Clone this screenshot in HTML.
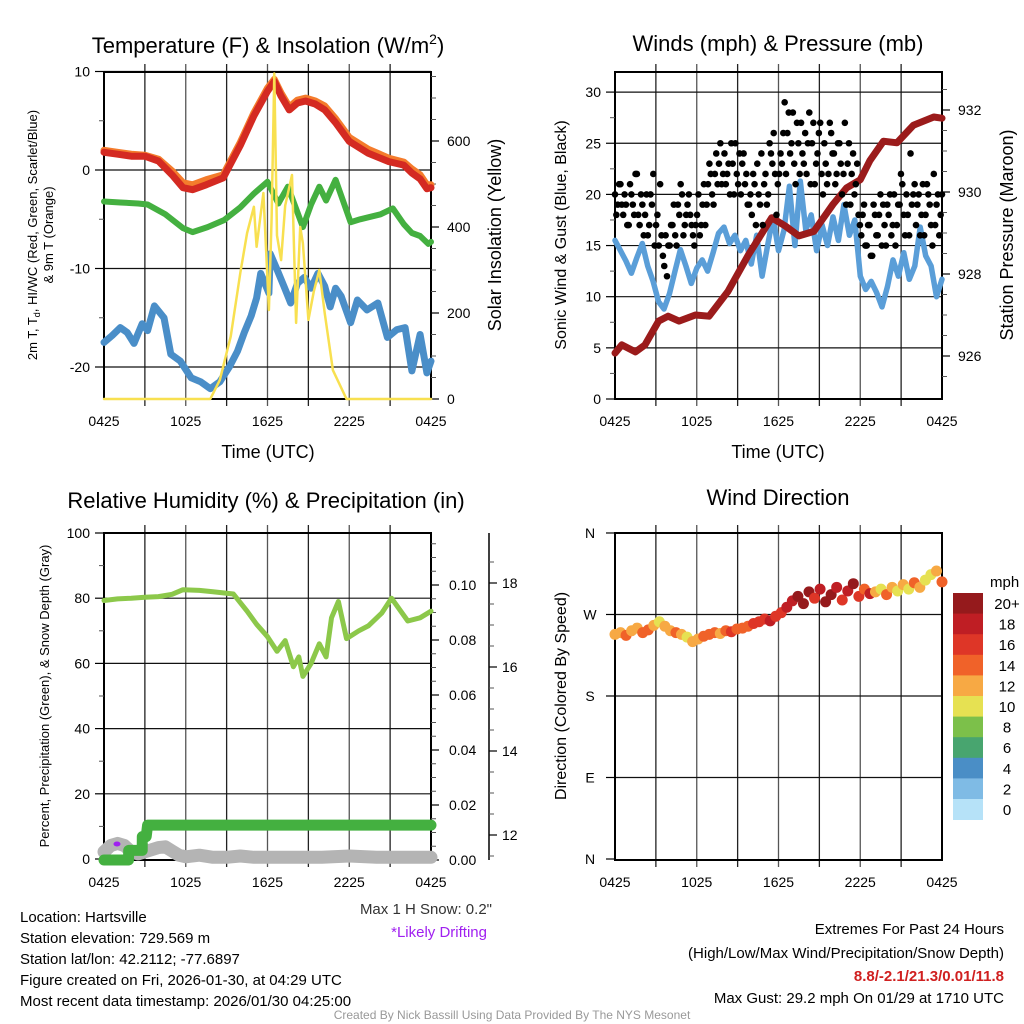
<!DOCTYPE html>
<html><head><meta charset="utf-8"><style>
html,body{margin:0;padding:0;background:#fff;}
svg{display:block;font-family:"Liberation Sans",Arial,sans-serif;}
</style></head><body>
<svg id="fig" width="1024" height="1024" viewBox="0 0 1024 1024" xmlns="http://www.w3.org/2000/svg">
<rect width="1024" height="1024" fill="#fff"/>
<g font-size="22" text-anchor="middle" fill="#000">
<text x="268" y="53">Temperature (F) &amp; Insolation (W/m<tspan font-size="14" dy="-9">2</tspan><tspan dy="9">)</tspan></text>
<text x="778" y="51">Winds (mph) &amp; Pressure (mb)</text>
<text x="266" y="508">Relative Humidity (%) &amp; Precipitation (in)</text>
<text x="778" y="505">Wind Direction</text>
</g>
<g font-size="18" text-anchor="middle">
<text x="268" y="458">Time (UTC)</text>
<text x="778" y="458">Time (UTC)</text>
<text transform="translate(501,235) rotate(-90)">Solar Insolation (Yellow)</text>
<text transform="translate(1013,235) rotate(-90)">Station Pressure (Maroon)</text>
</g>
<g font-size="16" text-anchor="middle">
<text transform="translate(566,235) rotate(-90)">Sonic Wind &amp; Gust (Blue, Black)</text>
<text transform="translate(566,696) rotate(-90)">Direction (Colored By Speed)</text>
</g>
<g font-size="13" text-anchor="middle">
<text transform="translate(37,235) rotate(-90)">2m T, T<tspan font-size="9" dy="3">d</tspan><tspan dy="-3">, HI/WC (Red, Green, Scarlet/Blue)</tspan></text>
<text transform="translate(53,235) rotate(-90)">&amp; 9m T (Orange)</text>
<text transform="translate(49,696) rotate(-90)">Percent, Precipitation (Green), &amp; Snow Depth (Gray)</text>
</g>
<g font-size="15">
<text x="20" y="922">Location: Hartsville</text>
<text x="20" y="943">Station elevation: 729.569 m</text>
<text x="20" y="964">Station lat/lon: 42.2112; -77.6897</text>
<text x="20" y="985">Figure created on Fri, 2026-01-30, at 04:29 UTC</text>
<text x="20" y="1006">Most recent data timestamp: 2026/01/30 04:25:00</text>
<text x="492" y="914" text-anchor="end" fill="#333">Max 1 H Snow: 0.2"</text>
<text x="487" y="937" text-anchor="end" fill="#a020f0">*Likely Drifting</text>
<text x="1004" y="934" text-anchor="end">Extremes For Past 24 Hours</text>
<text x="1004" y="958" text-anchor="end">(High/Low/Max Wind/Precipitation/Snow Depth)</text>
<text x="1004" y="981" text-anchor="end" fill="#d02020" font-weight="bold">8.8/-2.1/21.3/0.01/11.8</text>
<text x="1004" y="1003" text-anchor="end">Max Gust: 29.2 mph On 01/29 at 1710 UTC</text>
</g>
<text x="512" y="1019" font-size="12" fill="#999" text-anchor="middle">Created By Nick Bassill Using Data Provided By The NYS Mesonet</text>
<g id="layer"></g>
</svg>
<script>
// ---- Data arrays ----
const xTickLabels = ["0425","1025","1625","2225","0425"];
const tempHours = [0,1,2,3,4,5,5.8,6.5,7.5,8.75,10,11,12,12.5,13,13.6,14.2,14.8,15.5,16.2,17,18,19.4,20.9,22,22.6,23.2,23.7,24];
const temp2m = [1.8,1.6,1.4,1.4,0.9,-0.5,-1.8,-2.0,-1.5,-0.8,2.5,5.5,8.0,9.0,7.5,6.1,6.8,7.0,6.7,6.1,4.8,2.9,1.7,0.85,0.5,-0.3,-0.9,-1.9,-1.8];
const temp9m = [2.0,1.8,1.6,1.5,1.1,-0.1,-1.3,-1.5,-1.0,-0.5,2.8,5.8,8.3,9.2,7.8,6.4,7.1,7.3,7.0,6.5,5.2,3.3,2.1,1.2,0.8,0.1,-0.5,-1.5,-1.5];
const dewHours = [0,1.2,2.5,3.2,4.5,5.8,6.5,7.6,8.8,10,11,12,12.8,13.5,14.6,15.2,15.8,16.3,17,18.1,18.8,19.4,20.3,21.2,22,22.6,23.2,23.8,24];
const dewPoint = [-3.2,-3.3,-3.4,-3.5,-4.5,-5.9,-6.3,-5.8,-5.1,-3.8,-2.4,-1.2,-3.4,-1.7,-5.8,-3.5,-1.7,-3.1,-1.0,-5.3,-5.0,-4.8,-4.5,-3.9,-5.5,-6.4,-6.7,-7.5,-7.3];
const wcHours = [0,0.6,1.2,1.7,2.2,2.8,3.2,3.7,4.4,4.9,5.6,6.4,7.1,7.8,8.5,9.2,9.8,10.3,10.8,11.2,11.5,12.1,12.2,12.7,13.2,13.7,14.2,14.7,15.2,15.7,16.2,16.6,17.0,17.4,18.1,18.6,19.3,20.1,20.8,21.5,22.1,22.6,23.2,23.7,24];
const windChill = [-17.5,-16.8,-16.0,-16.5,-17.6,-15.6,-16.3,-13.8,-15.0,-18.7,-19.4,-21.1,-21.5,-22.2,-21.5,-20.0,-18.4,-16.5,-14.8,-13.0,-10.5,-12.5,-8.5,-10.1,-11.8,-13.5,-11.5,-10.9,-12.0,-10.5,-11.8,-13.9,-12.0,-12.8,-15.5,-13.2,-14.2,-13.5,-17.0,-16.2,-16.0,-20.4,-16.7,-20.6,-19.4];
const solarHours = [0,7.8,8.5,9.3,10,10.5,11,11.2,11.5,11.7,12.1,12.3,12.5,12.7,13,13.3,13.8,14.1,14.4,14.6,15,15.4,15.8,16.2,16.8,17.8,24];
const solarRad = [0,0,44,145,293,386,447,354,430,479,207,420,757,380,323,450,521,177,400,362,184,250,300,200,67,0,0];
const presHours = [0,0.5,1.5,2.2,3.2,3.9,4.7,5.9,6.9,8.3,9.8,11.5,12.5,13.5,14.6,16,17,18,18.7,19.7,20.7,21.9,23.4,24];
const pressure = [926.07,926.27,926.1,926.27,926.85,926.97,926.85,927.0,926.97,927.58,928.47,929.37,929.17,928.93,929.04,929.7,930.1,930.3,930.76,931.24,931.2,931.63,931.83,931.8];
const windSpeed = [15.5,14.5,13.5,12.3,13.8,15.2,13,11.5,9.5,8.8,10.3,12.5,14.6,13,11.3,12.8,13.6,12.5,14.3,16.2,16.8,15.2,16,14.5,15.5,13.2,16,12,15,17.8,14.5,16.5,20.8,15,21.3,16.5,18,14.5,17,15,17.8,15.5,19,16,17.5,12,10.7,11.5,10.4,9,11,13.6,12,14.3,11.7,13,16.8,14,13,10,11.7];
const gustValues = [20,19,21,18,19,17,20,18,22,17, 19,18,16,20,22,17,15,16,13,12, 15,17,16,19,21,16,18,20,17,15, 18,16,19,17,21,22,19,24,23,21, 24,22,20,23,25,21,20,24,22,19, 18,21,23,19,17,22,20,24,26,18, 22,23,29,26,24,28,21,25,27,23, 22,28,25,21,24,27,20,23,22,26, 24,22,25,20,27,23,19,24,21,18, 16,19,15,17,14,18,16,20,19,15, 18,16,20,17,19,21,16,18,24,20, 17,20,18,16,21,19,15,17,20,18];
const gustValues2 = [18,21,19,20,17,21,19,22,18,20, 16,20,17,19,15,18,21,14,16,15, 17,19,15,18,20,17,19,18,16,17, 20,17,21,19,23,20,22,21,25,22, 21,23,25,20,22,24,23,21,19,20, 22,17,20,24,21,19,25,23,22,21, 24,26,22,28,25,23,27,22,24,26, 25,21,27,23,26,22,25,21,27,24, 21,25,23,22,19,25,22,20,23,17, 18,15,17,14,19,16,18,15,17,19, 20,17,15,19,22,18,20,16,19,21, 19,16,21,18,20,17,22,19,16,20];
const rhHours = [0,1,2,3,4,5,5.8,7,8,9.5,10.5,11.2,12,12.7,13.3,13.9,14.3,14.6,15.2,15.8,16.3,16.7,17.2,17.8,18.7,19.4,20.4,21.1,22.3,23.2,24];
const relHumidity = [79.3,79.8,80,80.3,80.5,81.2,82.6,82.4,82.0,81.3,76,72,68.2,63.7,67,59,62,56,60,66,62,74,79,67.6,70,71.5,75.5,80,73,74,76];
const precipHours = [0,1.8,1.81,2.8,2.81,3.1,3.2,24];
const precip = [0,0,0.0035,0.0035,0.0085,0.0085,0.0127,0.0127];
const snowHours = [0,0.5,1,1.5,2,2.5,3,3.5,4,4.5,5,5.5,6,7,8,9,10,11,12,14,16,18,20,22,24];
const snowDepth = [11.6,11.75,11.8,11.75,11.6,11.55,11.6,11.65,11.7,11.72,11.62,11.52,11.48,11.52,11.47,11.47,11.5,11.47,11.47,11.47,11.47,11.5,11.47,11.47,11.47];
const dirValues = [248,250,247,252,255,250,253,258, 262,257,252,250,248,245,240, 243,246,248,250,249,252,251,254, 255,257,260,262,265,263,268,272, 278,285,290,282,295,288,298,284, 292,300,286,296,304,290,298,293, 295,298,292,300,296,303,298,305, 300,308,314,318,306];
const dirSpeeds = [12,13,14,13,12,15,14,13, 11,12,13,14,13,10,12, 13,14,15,14,13,15,16,15, 14,15,16,17,16,18,17,16, 18,19,21,20,22,17,19,21, 20,18,16,19,21,17,15,19, 12,11,14,12,10,13,11,14, 12,10,11,13,15];
const cbLabels = ["20+","18","16","14","12","10","8","6","4","2","0"];
const cbColors = ["#951a1c","#bf1e24","#de3627","#f06229","#f7a944","#e6e152","#7cc04a","#48a56f","#4a8ec6","#7fbbe5","#b6e2f8"];

// ---- Scales ----
const PW = 327;
const X1 = h => 104 + h * PW / 24;
const X2 = h => 615 + h * PW / 24;
const YT = t => 170 - t * 9.85;
const YS = w => 399 - w * 0.43;
const YW = m => 399 - m * 10.23;
const YP = p => 356 - (p - 926) * 41;
const YR = v => 859 - v * 3.26;
const YPr = p => 860 - p * 2750;
const YSn = s => 835 - (s - 12) * 42;
const YD = d => 859 - d * 0.9056;

const NS = "http://www.w3.org/2000/svg";
const layer = document.getElementById("layer");
function mk(tag, attrs, parent) {
  const e = document.createElementNS(NS, tag);
  for (const k in attrs) e.setAttribute(k, attrs[k]);
  (parent || layer).appendChild(e);
  return e;
}
function pathD(xs, ys, fx, fy) {
  return xs.map((x, i) => (i ? "L" : "M") + fx(x).toFixed(1) + "," + fy(ys[i]).toFixed(1)).join("");
}
function line(x1, y1, x2, y2, stroke, w) {
  return mk("line", {x1: x1, y1: y1, x2: x2, y2: y2, stroke: stroke, "stroke-width": w});
}
function txt(x, y, s, anchor, size) {
  const t = mk("text", {x: x, y: y, "text-anchor": anchor, "font-size": size || 14});
  t.textContent = s;
  return t;
}

// ---- Panel frames & grids ----
function panel(x0, y0, name, hLines) {
  const g = mk("g", {});
  
  
  for (let i = 1; i < 8; i++) {
    const x = x0 + i * PW / 8;
    mk("line", {x1: x, y1: y0 - 8, x2: x, y2: y0 + 334, stroke: i % 2 ? "#222" : "#555", "stroke-width": 1.3}, g);
  }
  hLines.forEach(y => mk("line", {x1: x0, y1: y, x2: x0 + PW, y2: y, stroke: "#111", "stroke-width": 1.2}, g));
  const f = mk("rect", {x: x0, y: y0, width: PW, height: 327, fill: "none", stroke: "#000", "stroke-width": 2});
  
  
  xTickLabels.forEach((l, i) => {
    const t = txt(x0 + i * PW / 4, y0 + 354, l, "middle");
    
    
  });
}
panel(104, 72, "temperature", [10, 0, -10, -20].map(YT));
panel(615, 72, "winds", [5, 10, 15, 20, 25, 30].map(YW));
panel(104, 533, "humidity", [20, 40, 60, 80].map(YR));
panel(615, 533, "direction", [90, 180, 270].map(YD));

function leftAxis(xa, vals, fy, labels, minor, name) {
  vals.forEach((v, i) => {
    line(xa - 9, fy(v), xa, fy(v), "#000", 1.2);
    const t = txt(xa - 14, fy(v) + 5, labels[i], "end");
    
    
  });
  minor.forEach(v => line(xa - 5, fy(v), xa, fy(v), "#555", 1));
}
function rightAxis(xa, vals, fy, labels, minor, name, lx) {
  vals.forEach((v, i) => {
    line(xa, fy(v), xa + 8, fy(v), "#000", 1.2);
    const t = txt(lx, fy(v) + 5, labels[i], "start");
    
    
  });
  minor.forEach(v => line(xa, fy(v), xa + 5, fy(v), "#555", 1));
}
leftAxis(104, [10, 0, -10, -20], YT, ["10", "0", "-10", "-20"], [5, -5, -15], "temperature-y");
rightAxis(431, [0, 200, 400, 600], YS, ["0", "200", "400", "600"], [50, 100, 150, 250, 300, 350, 450, 500, 550, 650, 700, 750], "insolation-y", 447);
leftAxis(615, [0, 5, 10, 15, 20, 25, 30], YW, ["0", "5", "10", "15", "20", "25", "30"], [2.5, 7.5, 12.5, 17.5, 22.5, 27.5], "wind-y");
rightAxis(942, [926, 928, 930, 932], YP, ["926", "928", "930", "932"], [925.5, 926.5, 927, 927.5, 928.5, 929, 929.5, 930.5, 931, 931.5, 932.5], "pressure-y", 958);
leftAxis(104, [0, 20, 40, 60, 80, 100], YR, ["0", "20", "40", "60", "80", "100"], [10, 30, 50, 70, 90], "humidity-y");
rightAxis(431, [0, 0.02, 0.04, 0.06, 0.08, 0.10], YPr, ["0.00", "0.02", "0.04", "0.06", "0.08", "0.10"], [0.005, 0.01, 0.015, 0.025, 0.03, 0.035, 0.045, 0.05, 0.055, 0.065, 0.07, 0.075, 0.085, 0.09, 0.095, 0.105, 0.11, 0.115], "precip-y", 449);
line(489, 533, 489, 860, "#000", 1.5);
rightAxis(489, [12, 14, 16, 18], YSn, ["12", "14", "16", "18"], [11.5, 12.5, 13, 13.5, 14.5, 15, 15.5, 16.5, 17, 17.5, 18.5], "snow-y", 502);
["N", "E", "S", "W", "N"].forEach((l, i) => {
  const v = i * 90;
  line(606, YD(v), 615, YD(v), "#000", 1.2);
  const t = txt(590, YD(v) + 5, l, "middle");
  
  
});

// ---- Series ----
function series(xs, ys, fx, fy, color, w, name) {
  const p = mk("path", {d: pathD(xs, ys, fx, fy), fill: "none", stroke: color, "stroke-width": w, "stroke-linejoin": "round", "stroke-linecap": "round"});
  
  
  return p;
}
series(wcHours, windChill, X1, YT, "#4a8ec8", 7, "wind-chill-line");
series(dewHours, dewPoint, X1, YT, "#44b040", 6, "dewpoint-line");
series(tempHours, temp9m, X1, YT, "#f47c2c", 7, "temp-9m-line");
series(tempHours, temp2m, X1, YT, "#d42a22", 7, "temp-2m-line");
series(solarHours, solarRad, X1, YS, "#f8e050", 2.5, "solar-insolation-line");

const windHours = windSpeed.map((v, i) => i * 24 / (windSpeed.length - 1));
series(windHours, windSpeed, X2, YW, "#5a9ed8", 5.5, "wind-speed-line");
series(presHours, pressure, X2, YP, "#9b1b1b", 7, "pressure-line");
[gustValues, gustValues2].forEach((arr, k) => {
  arr.forEach((v, i) => {
    const c = mk("circle", {cx: X2((i + k * 0.5) * 24 / (arr.length - 0.5)), cy: YW(v), r: 3.3, fill: "#000"});
    
    
  });
});

series(snowHours, snowDepth, X1, YSn, "#b4b4b4", 13, "snow-depth-line");
series(precipHours, precip, X1, YPr, "#44b040", 11, "precipitation-line");
series(rhHours, relHumidity, X1, YR, "#8cc84a", 5, "humidity-line");
const pm = mk("ellipse", {cx: 117, cy: 844, rx: 3.5, ry: 2.5, fill: "#a020f0"});



function speedColor(s) {
  const idx = Math.max(0, Math.min(10, 10 - Math.floor(s / 2)));
  return cbColors[idx];
}
dirValues.forEach((d, i) => {
  const c = mk("circle", {cx: X2(i * 24 / (dirValues.length - 1)), cy: YD(d), r: 5.5, fill: speedColor(dirSpeeds[i])});
  
  
});

// ---- Colorbar ----
const mphT = txt(990, 587, "mph", "start", 15);


cbLabels.forEach((l, i) => {
  const y = 593 + i * 20.6;
  const r = mk("rect", {x: 953, y: y, width: 30, height: 21, fill: cbColors[i]});
  
  
  const t = txt(1007, y + 16, l, "middle", 15);
  
  
});
</script>
</body></html>
